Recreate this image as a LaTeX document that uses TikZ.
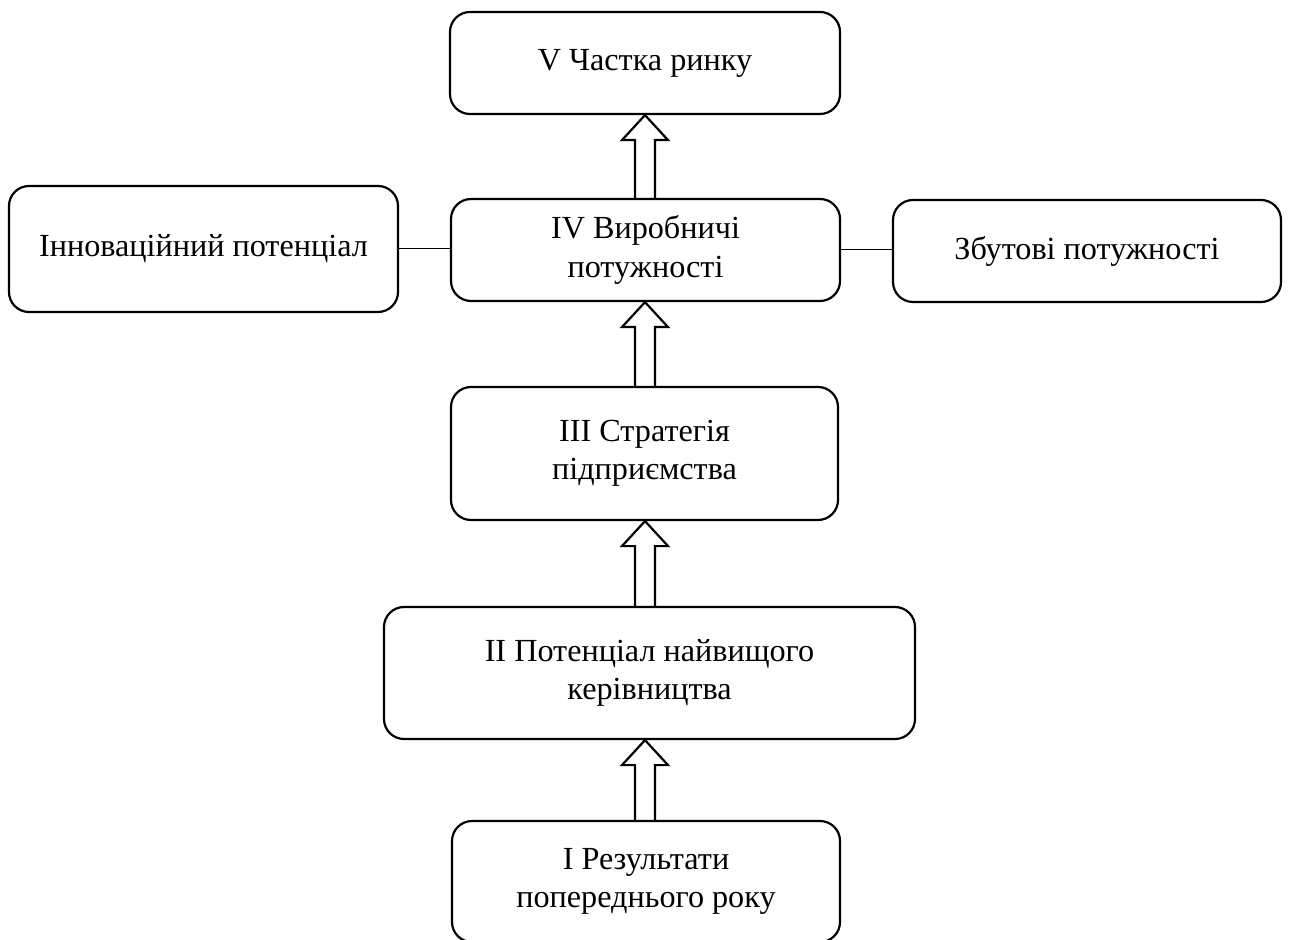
\documentclass[tikz,border=0pt]{standalone}
\usepackage{fontspec}
\setmainfont{Liberation Serif}
\usetikzlibrary{%
        calc%
    }
\tikzset{
  box/.style={draw,rounded corners=10pt,line width=1.1pt,align=center,
    inner sep=2pt,font=\fontsize{16.1}{19.2}\selectfont},
  link/.style={line width=0.5pt},
  blockarr/.style={line width=1.1pt,line join=miter}
}
% hollow arrow from the top of #1 up to the bottom of #2, on the axis
\newcommand{\blockarrow}[2]{%
  \draw[blockarr] ($(axis |- #1.north)+(-5pt,0)$)
    -- ($(axis |- #2.south)+(-5pt,-12.5pt)$) -- ($(axis |- #2.south)+(-11.5pt,-12.5pt)$)
    -- (axis |- #2.south) -- ($(axis |- #2.south)+(11.5pt,-12.5pt)$)
    -- ($(axis |- #2.south)+(5pt,-12.5pt)$) -- ($(axis |- #1.north)+(5pt,0)$);}

\begin{document}
\begin{tikzpicture}[x=0.5pt,y=-0.5pt]
      \useasboundingbox (0,0) rectangle (1289,940);
      \coordinate (axis) at (645,0);
      % main chain
      \node[box,minimum width=195pt,minimum height=51pt] (share) at (645,63)
        {V Частка ринку};
      \node[box,minimum width=194.5pt,minimum height=51pt] (capacity) at (645.5,250)
        {IV Виробничі\\потужності};
      \node[box,minimum width=193.5pt,minimum height=66.5pt] (strategy) at (644.5,453.5)
        {III Стратегія\\підприємства};
      \node[box,minimum width=265.5pt,minimum height=66pt] (manage) at (649.5,673)
        {II Потенціал найвищого\\керівництва};
      \node[box,minimum width=194pt,minimum height=60.5pt] (result) at (646,881.5)
        {I Результати\\попереднього року};
      % side boxes
      \node[box,minimum width=194.5pt,minimum height=63pt] (innov) at (203.5,249)
        {Інноваційний потенціал};
      \node[box,minimum width=194pt,minimum height=51pt] (sales) at (1087,251)
        {Збутові потужності};
      \draw[link] (innov.east) -- (capacity.west |- innov.east);% left link
      \draw[link] (capacity.east) -- (sales.west |- capacity.east);% right link
      % arrows
      \foreach \a/\b in {result/manage,manage/strategy,strategy/capacity,capacity/share}
        \blockarrow{\a}{\b};
    \end{tikzpicture}
\end{document}
